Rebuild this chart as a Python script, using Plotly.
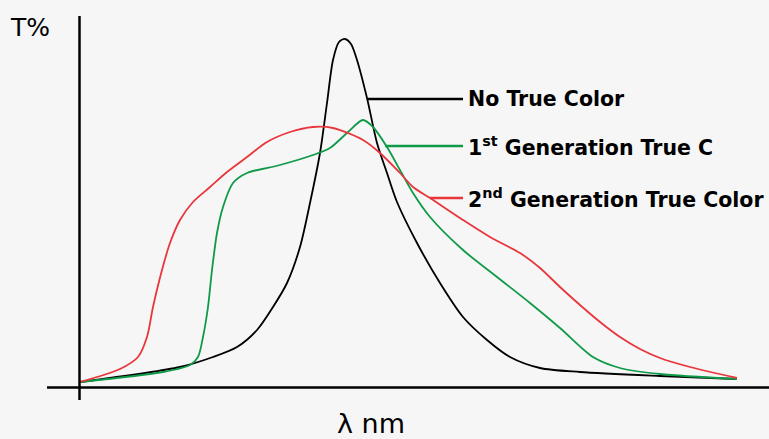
import plotly.graph_objects as go

# x: wavelength position (arbitrary units), y: T% (arbitrary units)
black_x = [0, 100, 133, 157, 177, 193, 207, 220, 230, 240, 247, 253, 259, 265, 271, 277, 287, 297, 307, 317, 337, 360, 383, 407, 430, 460, 500, 580, 657]
black_y = [5, 20, 30, 40, 57, 80, 104, 140, 184, 234, 284, 327, 345, 348, 343, 327, 289, 244, 214, 185, 144, 104, 70, 47, 30, 19, 15, 11, 8]

green_x = [0, 83, 110, 118, 123, 128, 132, 137, 143, 153, 167, 200, 233, 250, 267, 283, 293, 307, 320, 333, 350, 383, 417, 450, 480, 513, 540, 580, 657]
green_y = [5, 15, 22, 30, 50, 80, 117, 154, 180, 204, 214, 222, 232, 239, 254, 267, 260, 240, 217, 194, 170, 137, 110, 84, 59, 30, 19, 13, 8]

red_x = [0, 40, 58, 67, 73, 82, 90, 100, 113, 130, 147, 167, 187, 210, 233, 253, 283, 300, 320, 333, 350, 383, 410, 440, 460, 480, 500, 520, 540, 560, 580, 610, 657]
red_y = [5, 18, 30, 50, 80, 117, 144, 167, 185, 200, 215, 230, 245, 255, 260, 259, 247, 234, 214, 200, 189, 167, 150, 134, 119, 100, 82, 65, 50, 38, 29, 20, 9]

labels = ["No True Color", "1<sup>st</sup> Generation True C", "2<sup>nd</sup> Generation True Color"]
colors = ["#000000", "#0f9a48", "#e8363c"]
leader_start_x = [288, 305, 350]
leader_y = [288, 241, 189]

fig = go.Figure()
for xs, ys, c in [(black_x, black_y, colors[0]), (green_x, green_y, colors[1]), (red_x, red_y, colors[2])]:
    fig.add_trace(go.Scatter(x=xs, y=ys, mode="lines", line=dict(color=c, width=1.8, shape="spline", smoothing=0.8),
                             showlegend=False, hoverinfo="skip"))

for lab, c, x0, yy in zip(labels, colors, leader_start_x, leader_y):
    fig.add_shape(type="line", x0=x0, x1=383, y0=yy, y1=yy, line=dict(color=c, width=2.4))
    fig.add_annotation(x=386, y=yy, text="<b>" + lab + "</b>", showarrow=False, xanchor="left", yanchor="middle",
                       font=dict(family="DejaVu Sans", size=20.5, color="#000"))

# axes
fig.add_shape(type="line", x0=-0.5, x1=-0.5, y0=-13, y1=371, line=dict(color="#000", width=2.5))
fig.add_shape(type="line", x0=-33, x1=689, y0=-0.5, y1=-0.5, line=dict(color="#000", width=2.5))
fig.add_annotation(x=-50, y=360, text="T%", showarrow=False, font=dict(family="DejaVu Sans", size=25, color="#000"))
fig.add_annotation(x=291, y=-36, text="λ nm", showarrow=False, font=dict(family="DejaVu Sans", size=27, color="#000"))

fig.update_layout(width=769, height=439, margin=dict(l=0, r=0, t=0, b=0),
                  paper_bgcolor="#f6f6f6", plot_bgcolor="#f6f6f6",
                  xaxis=dict(range=[-80, 689], visible=False, fixedrange=True),
                  yaxis=dict(range=[-52, 387], visible=False, fixedrange=True))
fig.write_html("out.html", config={"displayModeBar": False, "staticPlot": True},
               post_script="document.body.style.margin='0';document.body.style.background='#f6f6f6';document.body.style.overflow='hidden';")
